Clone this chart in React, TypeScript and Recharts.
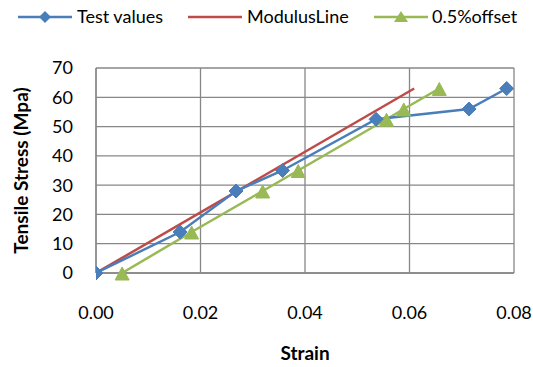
import React from "react";
import {
  LineChart,
  Line,
  XAxis,
  YAxis,
  CartesianGrid,
  Legend,
  Label,
} from "recharts";

// ---- data ----
const testStrain = [0, 0.0161, 0.0268, 0.0357, 0.0536, 0.0714, 0.0786];
const testStress = [0, 14, 28, 35, 52.5, 56, 63];

const modulusStrain = [0, 0.0609];
const modulusStress = [0, 63];

const offsetStrain = [0.005, 0.0183, 0.0319, 0.0387, 0.0556, 0.0589, 0.0657];
const offsetStress = [0, 14, 28, 35, 52.5, 56, 63];

const xTicks = [0, 0.02, 0.04, 0.06, 0.08];
const yTicks = [0, 10, 20, 30, 40, 50, 60, 70];

const seriesNames = ["Test values", "ModulusLine", "0.5%offset"];

const toPoints = (xs: number[], ys: number[]) =>
  xs.map((x, i) => ({ x, y: ys[i] }));

const testData = toPoints(testStrain, testStress);
const modulusData = toPoints(modulusStrain, modulusStress);
const offsetData = toPoints(offsetStrain, offsetStress);

const BLUE = "#4A7EBB";
const RED = "#BE4B48";
const GREEN = "#98B954";
const GRID = "#878787";
const FONT = "Lato, 'Open Sans', sans-serif";

const Diamond = (props: any) => {
  const { cx, cy, index } = props;
  if (cx == null || cy == null) return <g key={index} />;
  const r = 7;
  return (
    <path
      key={index}
      d={`M${cx},${cy - r}L${cx + r},${cy}L${cx},${cy + r}L${cx - r},${cy}Z`}
      fill={BLUE}
      stroke={BLUE}
      strokeWidth={1}
    />
  );
};

const Triangle = (props: any) => {
  const { cx, cy, index } = props;
  if (cx == null || cy == null) return <g key={index} />;
  return (
    <path
      key={index}
      d={`M${cx},${cy - 6}L${cx + 7},${cy + 7}L${cx - 7},${cy + 7}Z`}
      fill={GREEN}
      stroke={GREEN}
      strokeWidth={1}
    />
  );
};

const LegendContent = () => {
  const y = 17;
  return (
    <svg width={533} height={34} style={{ display: "block" }}>
      <g fontFamily={FONT} fontSize={18} fill="#000">
        <line x1={18} x2={72} y1={y} y2={y} stroke={BLUE} strokeWidth={2.5} />
        <path d={`M45,${y - 6}L51,${y}L45,${y + 6}L39,${y}Z`} fill={BLUE} />
        <text x={77} y={23}>{seriesNames[0]}</text>
        <line x1={188} x2={242} y1={y} y2={y} stroke={RED} strokeWidth={2.5} />
        <text x={247} y={23}>{seriesNames[1]}</text>
        <line x1={374} x2={428} y1={y} y2={y} stroke={GREEN} strokeWidth={2.5} />
        <path d={`M401,${y - 6}L408,${y + 5}L394,${y + 5}Z`} fill={GREEN} />
        <text x={432} y={23}>{seriesNames[2]}</text>
      </g>
    </svg>
  );
};

export default function App() {
  return (
    <div style={{ position: "absolute", left: 0, top: 0, background: "#fff" }}>
      <LineChart
        width={533}
        height={367}
        margin={{ top: 34, right: 19, bottom: 0, left: 0 }}
        style={{ fontFamily: FONT }}
      >
        <CartesianGrid stroke={GRID} strokeWidth={1.3} />
        <XAxis
          type="number"
          dataKey="x"
          domain={[0, 0.08]}
          ticks={xTicks}
          interval={0}
          tickFormatter={(v: number) => v.toFixed(2)}
          height={94}
          tickLine={false}
          tickSize={6}
          tickMargin={27}
          axisLine={{ stroke: GRID, strokeWidth: 1.3 }}
          tick={{ fill: "#000", fontSize: 18, fontFamily: FONT }}
          allowDataOverflow
        >
          <Label
            value="Strain"
            position="insideBottom"
            offset={7}
            style={{ fontWeight: 700, fontSize: 19, fill: "#000", fontFamily: FONT }}
          />
        </XAxis>
        <YAxis
          type="number"
          dataKey="y"
          domain={[0, 70]}
          ticks={yTicks}
          interval={0}
          width={96}
          tickLine={false}
          tickSize={6}
          tickMargin={17}
          axisLine={{ stroke: GRID, strokeWidth: 1.3 }}
          tick={{ fill: "#000", fontSize: 18, fontFamily: FONT }}
        >
          <Label
            value="Tensile Stress (Mpa)"
            angle={-90}
            position="insideLeft"
            offset={21}
            style={{
              textAnchor: "middle",
              fontWeight: 700,
              fontSize: 19,
              fill: "#000",
              fontFamily: FONT,
            }}
          />
        </YAxis>
        <Legend
          verticalAlign="top"
          align="left"
          content={<LegendContent />}
          wrapperStyle={{ position: "absolute", top: 0, left: 0, width: 533, height: 34 }}
        />
        <Line
          data={modulusData}
          dataKey="y"
          name={seriesNames[1]}
          stroke={RED}
          strokeWidth={2.5}
          dot={false}
          isAnimationActive={false}
        />
        <Line
          data={offsetData}
          dataKey="y"
          name={seriesNames[2]}
          stroke={GREEN}
          strokeWidth={2.5}
          dot={Triangle}
          activeDot={false}
          isAnimationActive={false}
        />
        <Line
          data={testData}
          dataKey="y"
          name={seriesNames[0]}
          stroke={BLUE}
          strokeWidth={2.5}
          dot={Diamond}
          activeDot={false}
          isAnimationActive={false}
        />
      </LineChart>
    </div>
  );
}
